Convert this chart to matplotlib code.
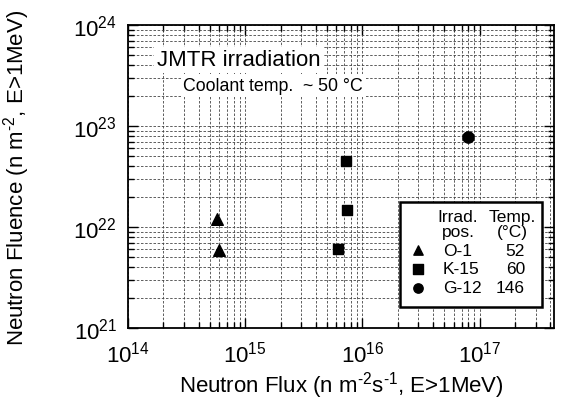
import matplotlib
matplotlib.use("Agg")
import matplotlib.pyplot as plt
from matplotlib.ticker import LogLocator, NullFormatter

plt.rcParams['font.family'] = ['Liberation Sans', 'DejaVu Sans']
plt.rcParams['mathtext.fontset'] = 'custom'
plt.rcParams['mathtext.rm'] = 'Liberation Sans'
plt.rcParams['mathtext.it'] = 'Liberation Sans'

# --- data ---
o1_flux = [5.7e14, 6.0e14]
o1_fluence = [1.2e22, 5.9e21]
k15_flux = [7.3e15, 7.4e15, 6.2e15]
k15_fluence = [4.5e22, 1.47e22, 6.1e21]
g12_flux = [7.9e16]
g12_fluence = [7.7e22]

pos_names = ["O-1", "K-15", "G-12"]
pos_temps = ["52", "60", "146"]
pos_markers = ["^", "s", "o"]

fig = plt.figure(figsize=(5.63, 4.02), dpi=100)
ax = fig.add_axes([0.2274, 0.1816, 0.984 - 0.2274, 0.9353 - 0.1816])

ax.scatter(o1_flux, o1_fluence, marker="^", s=70, color="black", zorder=3)
ax.scatter(k15_flux, k15_fluence, marker="s", s=60, color="black", zorder=3)
ax.scatter(g12_flux, g12_fluence, marker="o", s=65, color="black", zorder=3)

ax.set_xscale("log")
ax.set_yscale("log")
ax.set_xlim(1e14, 4.3e17)
ax.set_ylim(1e21, 1e24)

ax.xaxis.set_major_locator(LogLocator(base=10, numticks=10))
ax.yaxis.set_major_locator(LogLocator(base=10, numticks=10))
ax.xaxis.set_minor_locator(LogLocator(base=10, subs=range(2, 10), numticks=20))
ax.yaxis.set_minor_locator(LogLocator(base=10, subs=range(2, 10), numticks=20))
ax.xaxis.set_minor_formatter(NullFormatter())
ax.yaxis.set_minor_formatter(NullFormatter())

ax.grid(True, which="both", linestyle=(0, (3, 2)), linewidth=0.6, color="#444444")
ax.tick_params(which="both", direction="in", top=True, right=True, width=1.0)
ax.tick_params(which="major", length=7, labelsize=16)
ax.tick_params(axis="x", which="major", pad=9)
ax.tick_params(axis="y", which="major", pad=8)
ax.tick_params(which="minor", length=4)
for sp in ax.spines.values():
    sp.set_linewidth(1.3)

ax.set_xlabel(r"Neutron Flux (n m$^{\text{-2}}$s$^{\text{-1}}$, E>1MeV)", fontsize=16)
ax.set_ylabel(r"Neutron Fluence (n m$^{\text{-2}}$, E>1MeV)", fontsize=16)
ax.xaxis.set_label_coords(0.5, -0.136)
ax.yaxis.set_label_coords(-0.225, 0.5)

# title block with white background
ax.text(0.068, 0.885, "JMTR irradiation", transform=ax.transAxes, fontsize=16,
        va="center", ha="left", zorder=4,
        bbox=dict(facecolor="white", edgecolor="none", pad=2))
ax.text(0.13, 0.80, "Coolant temp.  ~ 50 \u00b0C", transform=ax.transAxes,
        fontsize=12.8, va="center", ha="left", zorder=4,
        bbox=dict(facecolor="white", edgecolor="none", pad=2))

# legend table
def ax_x(px):
    return (px - 128) / 426


def ax_y(py):
    return (329 - py) / 303


box = plt.Rectangle((ax_x(400), ax_y(308)), ax_x(542) - ax_x(400), ax_y(203) - ax_y(308),
                    transform=ax.transAxes, facecolor="white", edgecolor="black",
                    linewidth=1.8, zorder=5)
ax.add_patch(box)
tkw = dict(transform=ax.transAxes, fontsize=12.5, zorder=6, va="center")
ax.text(ax_x(458), ax_y(217), "Irrad.", ha="center", **tkw)
ax.text(ax_x(458), ax_y(232), "pos.", ha="center", **tkw)
ax.text(ax_x(512), ax_y(217), "Temp.", ha="center", **tkw)
ax.text(ax_x(512), ax_y(232), "(\u00b0C)", ha="center", **tkw)
for i, (nm, tp, mk) in enumerate(zip(pos_names, pos_temps, pos_markers)):
    yy = ax_y(251 + 19 * i)
    ax.scatter([ax_x(418)], [yy], marker=mk, s=45, color="black",
               transform=ax.transAxes, zorder=6, clip_on=False)
    ax.text(ax_x(443), yy, nm, ha="left", **tkw)
    ax.text(ax_x(525), yy, tp, ha="right", **tkw)

fig.savefig("out.png", dpi=100)
